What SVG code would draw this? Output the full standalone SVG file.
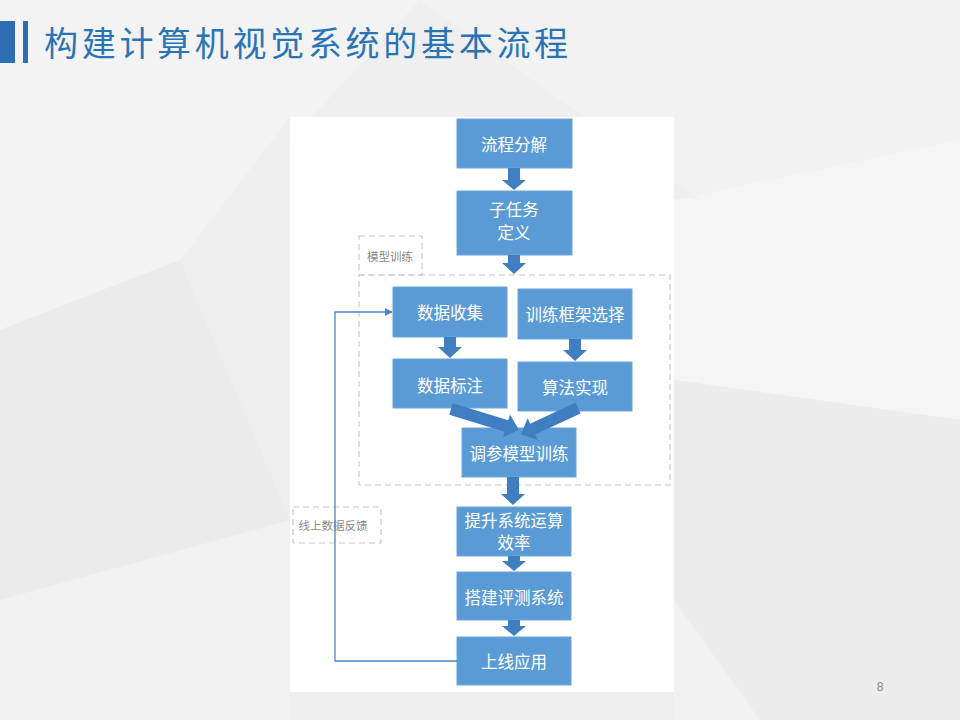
<svg xmlns="http://www.w3.org/2000/svg" width="960" height="720" viewBox="0 0 960 720">
<defs>
<style>
.box{fill:#5b9bd5;stroke:#6aa5db;stroke-width:1}
.bt{font-family:"Noto Sans CJK SC","Noto Sans",sans-serif;font-size:16.5px;fill:#ffffff;text-anchor:middle;dominant-baseline:central}
.lbl{font-family:"Noto Sans CJK SC","Noto Sans",sans-serif;font-size:11.5px;fill:#8a8a8a;text-anchor:middle;dominant-baseline:central}
.dash{fill:none;stroke:#c8c8c8;stroke-width:1.2;stroke-dasharray:6 4}
.arr{fill:#3f7fc1}
.fb{fill:none;stroke:#4f86c6;stroke-width:1.3}
</style>
<marker id="ah" viewBox="0 0 10 10" refX="9" refY="5" markerWidth="8" markerHeight="8" markerUnits="userSpaceOnUse" orient="auto">
<path d="M0,0 L10,5 L0,10 z" fill="#4f86c6"/>
</marker>
</defs>
<!-- background -->
<rect x="0" y="0" width="960" height="720" fill="#eeeeef"/>
<polygon points="0,0 420,0 180,260 0,330" fill="#f3f3f4"/>
<polygon points="420,0 960,0 960,140 700,200" fill="#f2f2f3"/>
<polygon points="0,330 180,260 290,520 0,600" fill="#ebebec"/>
<polygon points="0,600 290,520 290,720 0,720" fill="#f1f1f2"/>
<polygon points="674,200 960,140 960,420 674,380" fill="#f5f5f6"/>
<polygon points="674,380 960,420 960,720 760,720 674,600" fill="#ececed"/>
<polygon points="674,600 760,720 674,720" fill="#f2f2f3"/>
<polygon points="180,260 420,0 700,200 290,117" fill="#efeff0"/>
<!-- title -->
<g id="title">
<rect x="0" y="21" width="15" height="42" fill="#2e6fb3"/>
<rect x="23" y="21" width="5" height="42" fill="#2e6fb3"/>
<text x="44" y="56" font-family="'Noto Sans CJK SC','Noto Sans',sans-serif" font-size="34" letter-spacing="3.7" fill="#2a74b5">构建计算机视觉系统的基本流程</text>
</g>
<!-- panel -->
<rect x="290" y="117" width="384" height="575" fill="#ffffff"/>
<!-- groups -->
<g id="grp-train">
<rect class="dash" x="359" y="275" width="311" height="210"/>
<rect class="dash" x="359" y="236" width="63" height="39"/>
<text class="lbl" x="390" y="256">模型训练</text>
</g>
<g id="grp-feedback">
<rect class="dash" x="293" y="507" width="88" height="36"/>
<text class="lbl" x="333" y="525">线上数据反馈</text>
</g>
<!-- nodes -->
<g id="n1"><rect class="box" x="457" y="119" width="115" height="49"/><text class="bt" x="514" y="144">流程分解</text></g>
<g id="n2"><rect class="box" x="457" y="191" width="115" height="64"/><text class="bt" x="514" y="209">子任务</text><text class="bt" x="514" y="232">定义</text></g>
<g id="n3"><rect class="box" x="393" y="287" width="114" height="50"/><text class="bt" x="450" y="312">数据收集</text></g>
<g id="n4"><rect class="box" x="518" y="289" width="114" height="50"/><text class="bt" x="575" y="314">训练框架选择</text></g>
<g id="n5"><rect class="box" x="393" y="359" width="114" height="49"/><text class="bt" x="450" y="385">数据标注</text></g>
<g id="n6"><rect class="box" x="518" y="362" width="114" height="49"/><text class="bt" x="575" y="387">算法实现</text></g>
<g id="n7"><rect class="box" x="462" y="428" width="114" height="49"/><text class="bt" x="519" y="453">调参模型训练</text></g>
<g id="n8"><rect class="box" x="457" y="507" width="114" height="49"/><text class="bt" x="514" y="520">提升系统运算</text><text class="bt" x="514" y="542">效率</text></g>
<g id="n9"><rect class="box" x="457" y="572" width="114" height="48"/><text class="bt" x="514" y="597">搭建评测系统</text></g>
<g id="n10"><rect class="box" x="457" y="637" width="114" height="48"/><text class="bt" x="514" y="661">上线应用</text></g>
<!-- connectors -->
<g id="connectors">
<polygon class="arr" points="508,168 520,168 520,180 526,180 514,190 502,180 508,180"/>
<polygon class="arr" points="508,255 520,255 520,263 526,263 514,274 502,263 508,263"/>
<polygon class="arr" points="444,337 456,337 456,347 462,347 450,358 438,347 444,347"/>
<polygon class="arr" points="569,339 581,339 581,350 587,350 575,361 563,350 569,350"/>
<polygon class="arr" transform="translate(451,409) rotate(17)" points="0,-6 58,-6 58,-12 71,0 58,12 58,6 0,6"/>
<polygon class="arr" transform="translate(578,408) rotate(155)" points="0,-6 50,-6 50,-12 63,0 50,12 50,6 0,6"/>
<polygon class="arr" points="507,477 519,477 519,494 525,494 513,505 501,494 507,494"/>
<polygon class="arr" points="508,556 520,556 520,561 526,561 514,571 502,561 508,561"/>
<polygon class="arr" points="508,620 520,620 520,626 526,626 514,636 502,626 508,626"/>
<polyline class="fb" points="457,661 335,661 335,312 392,312" marker-end="url(#ah)"/>
</g>
<text x="880" y="691" font-family="'Liberation Sans',sans-serif" font-size="12" fill="#8a8a8a" text-anchor="middle">8</text>
</svg>
